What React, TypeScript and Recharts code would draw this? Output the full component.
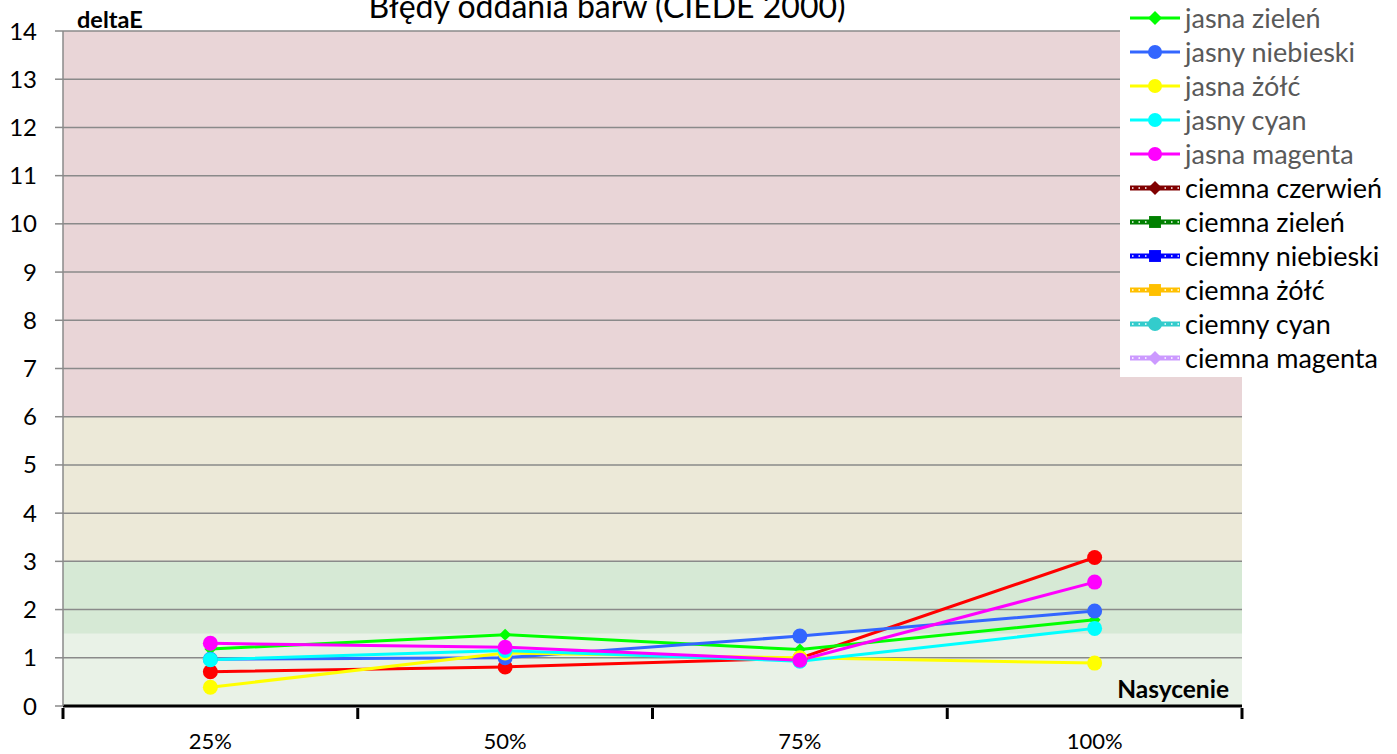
import React from "react";
import {
  LineChart,
  Line,
  XAxis,
  YAxis,
  ReferenceArea,
  ReferenceLine,
} from "recharts";

// saturation levels on the x axis
const categories = ["25%", "50%", "75%", "100%"];
const yTicks = [0, 1, 2, 3, 4, 5, 6, 7, 8, 9, 10, 11, 12, 13, 14];

// light colours (measured)
const jasnaCzerwien = [0.71, 0.81, 0.99, 3.08];
const jasnaZielen = [1.18, 1.48, 1.17, 1.79];
const jasnyNiebieski = [0.97, 1.0, 1.45, 1.97];
const jasnaZolc = [0.39, 1.1, 1.0, 0.89];
const jasnyCyan = [0.96, 1.15, 0.93, 1.61];
const jasnaMagenta = [1.3, 1.22, 0.95, 2.57];

// dark colours: no points plotted in this view
const ciemnaCzerwien = [null, null, null, null];
const ciemnaZielen = [null, null, null, null];
const ciemnyNiebieski = [null, null, null, null];
const ciemnaZolc = [null, null, null, null];
const ciemnyCyan = [null, null, null, null];
const ciemnaMagenta = [null, null, null, null];

// quality zones (deltaE ranges)
const zones = [
  { from: 0, to: 1.5, fill: "#e9f2e7" },
  { from: 1.5, to: 3, fill: "#d6e9d5" },
  { from: 3, to: 6, fill: "#ece9d8" },
  { from: 6, to: 14, fill: "#e9d5d7" },
];

type Marker = "circle" | "diamond" | "square";
type Series = {
  key: string;
  name: string;
  values: (number | null)[];
  color: string;
  marker: Marker;
  dark: boolean;
};

const series: Series[] = [
  { key: "jc", name: "jasna czerwień", values: jasnaCzerwien, color: "#ff0000", marker: "circle", dark: false },
  { key: "jz", name: "jasna zieleń", values: jasnaZielen, color: "#00ff00", marker: "diamond", dark: false },
  { key: "jn", name: "jasny niebieski", values: jasnyNiebieski, color: "#3366ff", marker: "circle", dark: false },
  { key: "jy", name: "jasna żółć", values: jasnaZolc, color: "#ffff00", marker: "circle", dark: false },
  { key: "jcy", name: "jasny cyan", values: jasnyCyan, color: "#00ffff", marker: "circle", dark: false },
  { key: "jm", name: "jasna magenta", values: jasnaMagenta, color: "#ff00ff", marker: "circle", dark: false },
  { key: "cc", name: "ciemna czerwień", values: ciemnaCzerwien, color: "#800000", marker: "diamond", dark: true },
  { key: "cz", name: "ciemna zieleń", values: ciemnaZielen, color: "#008000", marker: "square", dark: true },
  { key: "cn", name: "ciemny niebieski", values: ciemnyNiebieski, color: "#0000ff", marker: "square", dark: true },
  { key: "cy", name: "ciemna żółć", values: ciemnaZolc, color: "#ffc000", marker: "square", dark: true },
  { key: "ccy", name: "ciemny cyan", values: ciemnyCyan, color: "#33cccc", marker: "circle", dark: true },
  { key: "cm", name: "ciemna magenta", values: ciemnaMagenta, color: "#cc99ff", marker: "diamond", dark: true },
];

const data = categories.map((cat, i) => {
  const row: Record<string, string | number | null> = { cat };
  series.forEach((s) => {
    row[s.key] = s.values[i];
  });
  return row;
});

const FONT = "Lato, 'Open Sans', sans-serif";

function MarkerShape({ cx, cy, marker, color, size }: { cx: number; cy: number; marker: Marker; color: string; size: number }) {
  if (marker === "diamond") {
    return (
      <polygon
        points={`${cx},${cy - size} ${cx + size},${cy} ${cx},${cy + size} ${cx - size},${cy}`}
        fill={color}
      />
    );
  }
  if (marker === "square") {
    return <rect x={cx - size * 0.85} y={cy - size * 0.85} width={size * 1.7} height={size * 1.7} fill={color} />;
  }
  return <circle cx={cx} cy={cy} r={size} fill={color} />;
}

function makeDot(s: Series) {
  return (props: any) => {
    const { cx, cy, index } = props;
    if (cx == null || cy == null || props.value == null) return <g key={`${s.key}-${index}`} />;
    return (
      <g key={`${s.key}-${index}`}>
        <MarkerShape cx={cx} cy={cy} marker={s.marker} color={s.color} size={s.marker === "diamond" ? 6 : 7.5} />
      </g>
    );
  };
}

function XTick(props: any) {
  const { x, y, payload, index } = props;
  const half = payload && payload.offset ? payload.offset : 147;
  return (
    <g>
      <line x1={x - half} y1={y - 6} x2={x - half} y2={y + 5} stroke="#000" strokeWidth={3} />
      {index === categories.length - 1 && (
        <line x1={x + half} y1={y - 6} x2={x + half} y2={y + 5} stroke="#000" strokeWidth={3} />
      )}
      <text x={x} y={y + 35} textAnchor="middle" fontSize={22} fontFamily={FONT} fill="#000">
        {payload.value}
      </text>
    </g>
  );
}

function ChartLegend() {
  return (
    <div style={{ position: "absolute", left: 1120, top: -33, width: 277, background: "#fff", paddingBottom: 2 }}>
      {series.map((s) => (
        <div key={s.key} style={{ display: "flex", alignItems: "center", height: 34 }}>
          <svg width={65} height={20} style={{ flex: "none" }}>
            {s.dark ? (
              <g>
                <line x1={10} y1={10} x2={60} y2={10} stroke={s.color} strokeWidth={5} />
                <line x1={12} y1={10} x2={60} y2={10} stroke="#fff" strokeWidth={1.5} strokeDasharray="1.5 5" />
              </g>
            ) : (
              <line x1={10} y1={10} x2={60} y2={10} stroke={s.color} strokeWidth={3} />
            )}
            <MarkerShape cx={35} cy={10} marker={s.marker} color={s.color} size={7} />
          </svg>
          <span
            style={{
              fontFamily: FONT,
              fontSize: 27,
              lineHeight: "34px",
              color: s.dark ? "#000" : "#595959",
              whiteSpace: "nowrap",
            }}
          >
            {s.name}
          </span>
        </div>
      ))}
    </div>
  );
}

export default function App() {
  return (
    <div style={{ position: "fixed", left: 0, top: 0, width: 1397, height: 754, background: "#fff", overflow: "hidden" }}>
      <LineChart width={1397} height={754} data={data} margin={{ top: 31, right: 155, left: 0, bottom: 0 }}>
        {zones.map((z) => (
          <ReferenceArea key={z.from} y1={z.from} y2={z.to} fill={z.fill} fillOpacity={1} stroke="none" ifOverflow="visible" />
        ))}
        {yTicks.slice(1).map((t) => (
          <ReferenceLine key={t} y={t} stroke="#8a8a8a" strokeWidth={1.5} />
        ))}
        <XAxis
          dataKey="cat"
          scale="band"
          height={48}
          axisLine={{ stroke: "#000", strokeWidth: 3 }}
          tickLine={false}
          tick={<XTick />}
          interval={0}
        />
        <YAxis
          width={63}
          domain={[0, 14]}
          ticks={yTicks}
          interval={0}
          axisLine={{ stroke: "#8a8a8a", strokeWidth: 1.5 }}
          tickLine={{ stroke: "#8a8a8a", strokeWidth: 1.5 }}
          tickSize={8}
          tickMargin={18}
          tick={{ fontSize: 24, fontFamily: FONT, fill: "#000" }}
        />
        {series.map((s) => (
          <Line
            key={s.key}
            dataKey={s.key}
            name={s.name}
            stroke={s.color}
            strokeWidth={3}
            dot={makeDot(s)}
            activeDot={false}
            type="linear"
            isAnimationActive={false}
          />
        ))}
      </LineChart>
      <svg
        width={1397}
        height={754}
        style={{ position: "absolute", left: 0, top: 0, pointerEvents: "none" }}
      >
        <text x={607} y={18} textAnchor="middle" fontSize={32} fontFamily={FONT} fill="#000">
          Błędy oddania barw (CIEDE 2000)
        </text>
        <text x={77} y={28} fontSize={23.5} fontWeight="bold" fontFamily={FONT} fill="#000">
          deltaE
        </text>
        <text x={1229} y={698} textAnchor="end" fontSize={24.5} fontWeight="bold" fontFamily={FONT} fill="#000">
          Nasycenie
        </text>
      </svg>
      <ChartLegend />
    </div>
  );
}
